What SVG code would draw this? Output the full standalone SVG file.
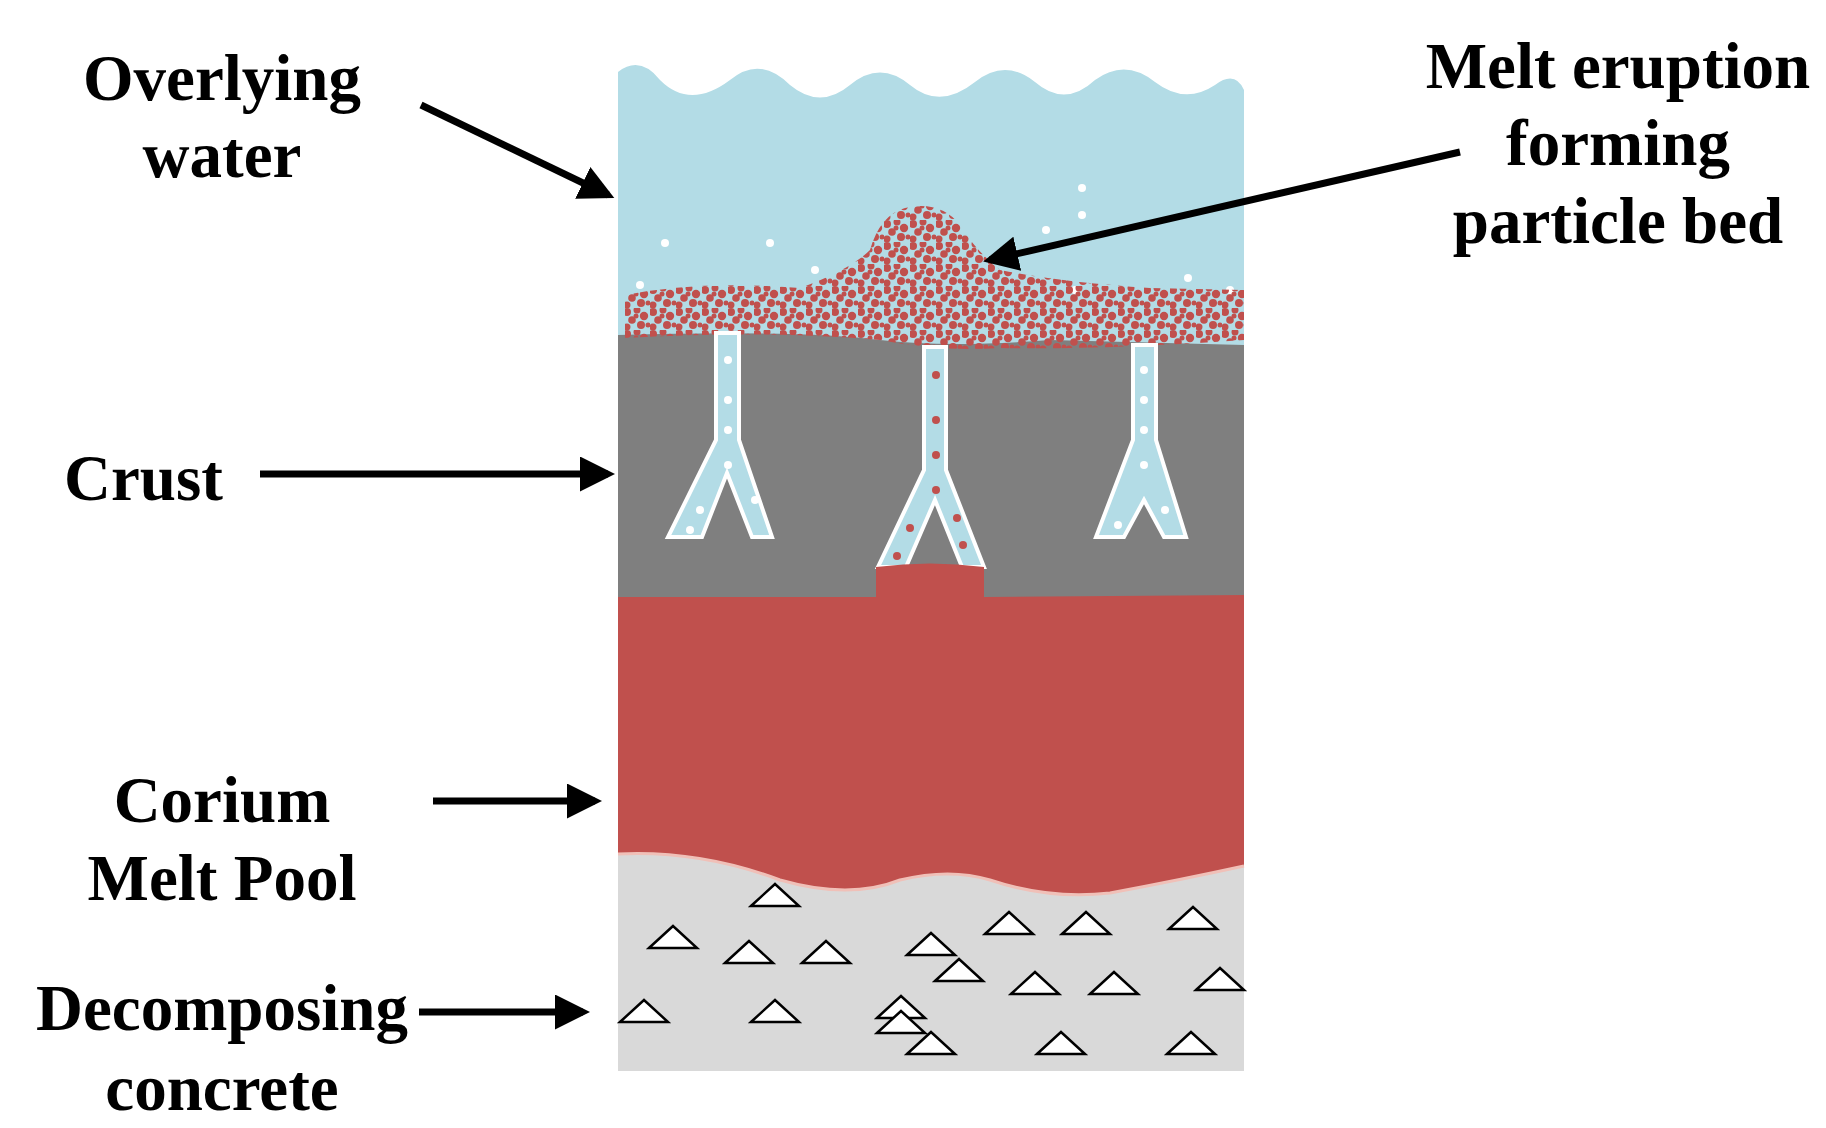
<svg xmlns="http://www.w3.org/2000/svg" width="1826" height="1128" viewBox="0 0 1826 1128">
<style>
.lbl{font-family:"Liberation Serif",serif;font-weight:bold;font-size:65px;fill:#000}
.arr{stroke:#000;stroke-width:7;fill:none;marker-end:url(#ah)}
.tri{fill:#fff;stroke:#000;stroke-width:2.5}
.ch{fill:#b3dce6;stroke:#fff;stroke-width:4;stroke-linejoin:miter}
.wd{fill:#fff}
.rd{fill:#c0504d}
</style>
<defs>
<marker id="ah" markerWidth="5" markerHeight="5" refX="4" refY="2.5" orient="auto" markerUnits="strokeWidth"><path d="M0,0 L5,2.5 L0,5 Z" fill="#000"/></marker>
<pattern id="dots" width="26" height="22" patternUnits="userSpaceOnUse"><circle cx="3" cy="4" r="4" fill="#c0504d"/><circle cx="13" cy="2" r="3.5" fill="#c0504d"/><circle cx="20" cy="8" r="4.2" fill="#c0504d"/><circle cx="8" cy="12" r="3.8" fill="#c0504d"/><circle cx="17" cy="17" r="4" fill="#c0504d"/><circle cx="3" cy="19" r="3.5" fill="#c0504d"/><circle cx="24" cy="17" r="2.5" fill="#c0504d"/><circle cx="12" cy="8" r="2.5" fill="#c0504d"/></pattern>
<path id="tri" d="M-24,0 L0,-22 L24,0 Z"/>
</defs>
<g id="water">
<path d="M618,72 Q640,55 660,80 Q690,110 730,80 Q760,55 790,85 Q820,110 850,85 Q880,60 910,85 Q940,110 975,82 Q1005,58 1035,82 Q1065,108 1095,80 Q1125,58 1155,82 Q1185,105 1215,85 Q1235,70 1244,90 L1244,360 L618,360 Z" fill="#b3dce6"/>
<circle class="wd" cx="665" cy="243" r="4"/><circle class="wd" cx="770" cy="243" r="4"/><circle class="wd" cx="1082" cy="188" r="4"/><circle class="wd" cx="1082" cy="215" r="4"/><circle class="wd" cx="1046" cy="230" r="4"/><circle class="wd" cx="1188" cy="278" r="4"/><circle class="wd" cx="1230" cy="290" r="4"/><circle class="wd" cx="640" cy="285" r="4"/><circle class="wd" cx="815" cy="270" r="4"/><circle class="wd" cx="1075" cy="290" r="4"/>
</g>
<g id="crust">
<path d="M618,335 Q800,330 880,340 Q950,348 1050,340 L1244,345 L1244,602 L618,602 Z" fill="#7f7f7f"/>
</g>
<g id="particle-bed">
<path d="M625,295 Q700,280 800,288 Q850,270 870,250 Q880,215 905,208 Q940,200 960,225 Q975,250 1000,270 Q1060,282 1150,288 L1244,290 L1244,340 Q1100,350 1000,348 Q940,352 880,340 Q760,330 625,338 Z" fill="url(#dots)"/>
</g>
<g id="channels">
<path class="ch" d="M716,333 L739,333 L739,440 L772,537 L752,537 L727,473 L702,537 L668,537 L716,440 Z"/>
<path class="ch" d="M924,347 L946,347 L946,470 L984,567 L962,567 L935,500 L906,567 L878,567 L924,470 Z"/>
<path class="ch" d="M1133,345 L1156,345 L1156,440 L1186,537 L1164,537 L1144,500 L1124,537 L1096,537 L1133,440 Z"/>
<circle class="wd" cx="728" cy="360" r="4"/><circle class="wd" cx="728" cy="400" r="4"/><circle class="wd" cx="728" cy="430" r="4"/><circle class="wd" cx="728" cy="465" r="4"/><circle class="wd" cx="700" cy="510" r="4"/><circle class="wd" cx="755" cy="500" r="4"/><circle class="wd" cx="690" cy="530" r="4"/>
<circle class="wd" cx="1144" cy="370" r="4"/><circle class="wd" cx="1144" cy="400" r="4"/><circle class="wd" cx="1144" cy="430" r="4"/><circle class="wd" cx="1144" cy="465" r="4"/><circle class="wd" cx="1165" cy="510" r="4"/><circle class="wd" cx="1118" cy="525" r="4"/>
<circle class="rd" cx="936" cy="375" r="4"/><circle class="rd" cx="936" cy="420" r="4"/><circle class="rd" cx="936" cy="455" r="4"/><circle class="rd" cx="936" cy="490" r="4"/><circle class="rd" cx="957" cy="518" r="4"/><circle class="rd" cx="963" cy="545" r="4"/><circle class="rd" cx="910" cy="528" r="4"/><circle class="rd" cx="897" cy="556" r="4"/>
</g>
<g id="melt">
<path d="M876,567 Q930,560 984,567 L984,597 L1244,595 L1244,866 Q1180,880 1110,893 Q1050,900 990,880 Q950,868 900,880 Q850,900 780,880 Q700,850 618,854 L618,597 L876,597 Z" fill="#c0504d"/>
</g>
<g id="concrete">
<path d="M618,854 Q700,850 780,880 Q850,900 900,880 Q950,868 990,880 Q1050,900 1110,893 Q1180,880 1244,866 L1244,1071 L618,1071 Z" fill="#d9d9d9"/>
<path d="M618,854 Q700,850 780,880 Q850,900 900,880 Q950,868 990,880 Q1050,900 1110,893 Q1180,880 1244,866" fill="none" stroke="#f0c0b8" stroke-width="3"/>
<use href="#tri" class="tri" x="775" y="906"/><use href="#tri" class="tri" x="673" y="948"/><use href="#tri" class="tri" x="749" y="963"/><use href="#tri" class="tri" x="826" y="963"/><use href="#tri" class="tri" x="931" y="955"/><use href="#tri" class="tri" x="959" y="981"/><use href="#tri" class="tri" x="1009" y="934"/><use href="#tri" class="tri" x="1086" y="934"/><use href="#tri" class="tri" x="1193" y="929"/><use href="#tri" class="tri" x="1035" y="994"/><use href="#tri" class="tri" x="1114" y="994"/><use href="#tri" class="tri" x="1220" y="990"/><use href="#tri" class="tri" x="644" y="1022"/><use href="#tri" class="tri" x="775" y="1022"/><use href="#tri" class="tri" x="901" y="1018"/><use href="#tri" class="tri" x="901" y="1033"/><use href="#tri" class="tri" x="931" y="1054"/><use href="#tri" class="tri" x="1061" y="1054"/><use href="#tri" class="tri" x="1191" y="1054"/>
</g>
<g id="connectors">
<line class="arr" x1="421" y1="105" x2="608" y2="195"/>
<line class="arr" x1="1460" y1="152" x2="990" y2="260"/>
<line class="arr" x1="260" y1="474" x2="608" y2="474"/>
<line class="arr" x1="433" y1="801" x2="595" y2="801"/>
<line class="arr" x1="419" y1="1012" x2="583" y2="1012"/>
</g>
<g id="labels">
<text class="lbl" x="222" y="100" text-anchor="middle">Overlying</text>
<text class="lbl" x="222" y="177" text-anchor="middle">water</text>
<text class="lbl" x="1618" y="88" text-anchor="middle">Melt eruption</text>
<text class="lbl" x="1618" y="165" text-anchor="middle">forming</text>
<text class="lbl" x="1618" y="243" text-anchor="middle">particle bed</text>
<text class="lbl" x="64" y="500">Crust</text>
<text class="lbl" x="222" y="822" text-anchor="middle">Corium</text>
<text class="lbl" x="222" y="900" text-anchor="middle">Melt Pool</text>
<text class="lbl" x="222" y="1030" text-anchor="middle">Decomposing</text>
<text class="lbl" x="222" y="1110" text-anchor="middle">concrete</text>
</g>
</svg>
